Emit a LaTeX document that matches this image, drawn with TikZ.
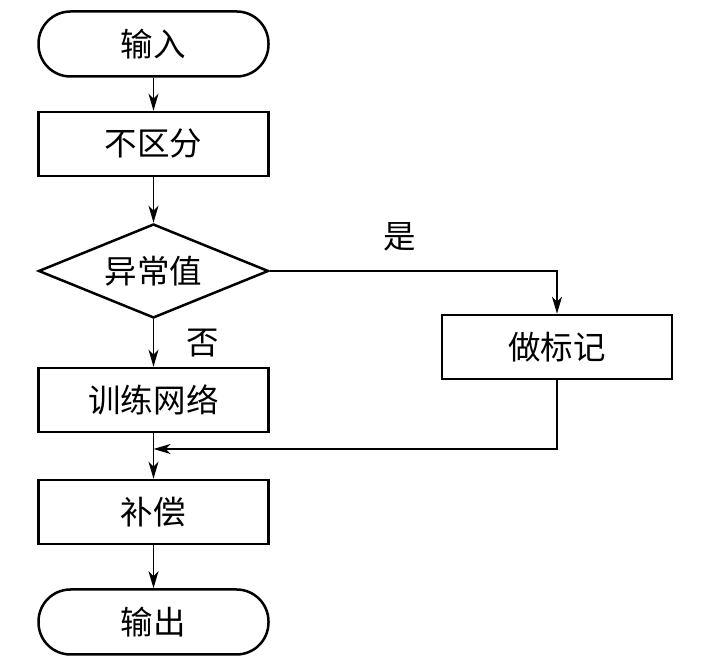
\documentclass[tikz,border=0pt]{standalone}
\usepackage{fontspec}
\newfontfamily\cjk{Noto Sans CJK SC}
\usetikzlibrary{arrows.meta,shapes.geometric}
\tikzset{
  flowbox/.style={draw, line width=0.05cm, minimum width=4.6cm, minimum height=1.28cm, inner sep=0pt},
  flowend/.style={flowbox, rounded corners=0.64cm, minimum height=1.3cm},
  flowtest/.style={draw, diamond, aspect=2.45, line width=0.05cm, minimum width=4.6cm, minimum height=1.88cm, inner sep=0pt},
  flowline/.style={line width=0.03cm, -{Stealth[length=0.34cm,width=0.2cm,inset=0.1cm]}}
}
\begin{document}
\begin{tikzpicture}
                    \useasboundingbox (0.000000,0.000000) rectangle (14.020000,13.320000);
                    {\cjk\fontsize{18.5}{22}\selectfont

                    % Drawing start and stop
                    \node [flowend] (input) at (3.070000,12.440000) {输入};%
                    \node [flowend] (output) at (3.070000,0.880000) {输出};%

                    % Drawing steps
                    \node [flowbox] (mix) at (3.070000,10.440000) {不区分};%
                    \node [flowtest] (outlier) at (3.070000,7.900000) {异常值};%
                    \node [flowbox] (train) at (3.070000,5.320000) {训练网络};%
                    \node [flowbox] (mark) at (11.140000,6.380000) {做标记};%
                    \node [flowbox] (comp) at (3.070000,3.080000) {补偿};%

                    % Marking join point
                    \coordinate (join) at (3.070000,4.340000);%

                    % Drawing arrows
                    \draw [flowline] (input) -- (mix);%
                    \draw [flowline] (mix) -- (outlier);%
                    \draw [flowline] (outlier) -- (train);%
                    \draw [flowline] (outlier.east) -| (mark.north);%
                    \draw [line width=0.03cm] (train) -- (join);%
                    \draw [flowline] (mark.south) |- (join);%
                    \draw [flowline] (join) -- (comp);%
                    \draw [flowline] (comp) -- (output);%

                    % Marking branches
                    \node (yes) at (8.000000,8.580000) {是};%
                    \node (no) at (4.060000,6.460000) {否};%
                    }
\end{tikzpicture}
\end{document}
